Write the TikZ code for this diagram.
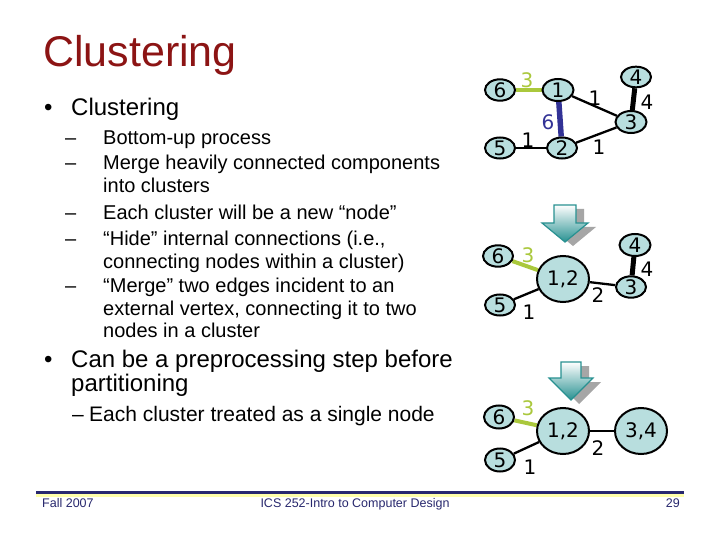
\documentclass[tikz,border=0pt]{standalone}
\usepackage{fontspec}
\setmainfont{Liberation Sans}
\newfontfamily\dvs{DejaVu Sans}
\usetikzlibrary{shapes.geometric,backgrounds}
\definecolor{titlered}{RGB}{140,20,20}
\definecolor{nodefill}{RGB}{184,222,222}
\definecolor{edgegreen}{RGB}{170,200,60}
\definecolor{edgeblue}{RGB}{50,50,150}
\definecolor{footnavy}{RGB}{40,40,110}
\definecolor{footyellow}{RGB}{255,255,170}
\definecolor{arrowteal}{RGB}{40,145,145}
\begin{document}
\begin{tikzpicture}[x=1pt,y=-1pt,
  txt/.style={anchor=base west,inner sep=0pt},
  lvlone/.style={txt,font=\fontsize{24}{28}\selectfont},
  lvltwo/.style={txt,font=\fontsize{20}{24}\selectfont},
  gnode/.style={ellipse,draw=black,line width=2pt,fill=nodefill,inner sep=0pt,
    font=\dvs\fontsize{20}{20}\selectfont},
  small/.style={gnode,minimum width=30pt,minimum height=21pt},
  big/.style={gnode,minimum width=52pt,minimum height=46pt},
  elabel/.style={inner sep=0pt,font=\dvs\fontsize{20}{20}\selectfont},
  gedge/.style={line width=2.3pt,black},
  thickedge/.style={line width=5pt,black},
  greenedge/.style={line width=4pt,edgegreen},
  blueedge/.style={line width=5.5pt,edgeblue},
  foot/.style={inner sep=0pt,text=footnavy,font=\fontsize{12.5}{14}\selectfont},
  arrowshadow/.style={fill=black!35},
  arrowbody/.style={top color=white,bottom color=arrowteal,draw=arrowteal,line width=1.2pt,line join=miter}
]
\useasboundingbox (0,0) rectangle (720,540);

% title
\node[txt,text=titlered,font=\fontsize{43}{50}\selectfont] (title) at (43,67) {Clustering};

% bullets
\node[lvlone] (b1) at (44,116) {•};
\node[lvlone] (t1) at (71,116) {Clustering};
\node[lvltwo] (d1) at (65,145) {–};
\node[lvltwo] (s1) at (103,145) {Bottom-up process};
\node[lvltwo] (d2) at (65,170) {–};
\node[lvltwo] (s2) at (103,170) {Merge heavily connected components};
\node[lvltwo] (s2b) at (103,193) {into clusters};
\node[lvltwo] (d3) at (65,219) {–};
\node[lvltwo] (s3) at (103,219) {Each cluster will be a new “node”};
\node[lvltwo] (d4) at (65,245) {–};
\node[lvltwo] (s4) at (103,245) {“Hide” internal connections (i.e.,};
\node[lvltwo] (s4b) at (103,268) {connecting nodes within a cluster)};
\node[lvltwo] (d5) at (65,292) {–};
\node[lvltwo] (s5) at (103,292) {“Merge” two edges incident to an};
\node[lvltwo] (s5b) at (103,315) {external vertex, connecting it to two};
\node[lvltwo] (s5c) at (103,337) {nodes in a cluster};
\node[lvlone] (b2) at (44,367) {•};
\node[lvlone] (t2) at (71,367) {Can be a preprocessing step before};
\node[lvlone] (t2b) at (71,391) {partitioning};
\node[lvltwo,font=\fontsize{21}{24}\selectfont] (d6) at (72,421) {–};
\node[lvltwo,font=\fontsize{21}{24}\selectfont] (s6) at (89,421) {Each cluster treated as a single node};

% graph 1
\node[small] (a6) at (500,90) {6};
\node[small,minimum width=31pt,minimum height=22pt] (a1) at (558,90) {1};
\node[small] (a5) at (500,148) {5};
\node[small] (a2) at (562,148) {2};
\node[small,minimum height=20pt] (a4) at (636,77) {4};
\node[small,minimum width=31pt,minimum height=22pt] (a3) at (631,122) {3};
\node[elabel,text=edgegreen] (la61) at (527,80) {3};
\node[elabel] (la13) at (595,98) {1};
\node[elabel] (la43) at (647,102) {4};
\node[elabel,text=edgeblue] (la12) at (548,122) {6};
\node[elabel] (la52) at (528,140) {1};
\node[elabel] (la23) at (599,147) {1};

% arrow 1
\fill[arrowshadow] (562,209) -- (584,209) -- (584,227) -- (596,227) -- (573,246) -- (550,227) -- (562,227) -- cycle;
\path[arrowbody] (554,205) -- (576,205) -- (576,223) -- (588,223) -- (565,242) -- (542,223) -- (554,223) -- cycle;

% graph 2
\node[small] (b6) at (498,256) {6};
\node[big] (b12) at (563,279) {1,2};
\node[small] (b5) at (500,305) {5};
\node[small,minimum width=31pt,minimum height=22pt] (b4) at (635,245) {4};
\node[small] (b3) at (631,287) {3};
\node[elabel,text=edgegreen] (lb6) at (528,255) {3};
\node[elabel] (lb43) at (647,269) {4};
\node[elabel] (lb3) at (598,295) {2};
\node[elabel] (lb5) at (529,312) {1};

% arrow 2
\fill[arrowshadow] (569,366) -- (589,366) -- (589,382) -- (601,382) -- (579,404) -- (557,382) -- (569,382) -- cycle;
\path[arrowbody] (561,362) -- (581,362) -- (581,378) -- (593,378) -- (571,400) -- (549,378) -- (561,378) -- cycle;

% graph 3
\node[small,minimum height=23pt] (c6) at (499,417) {6};
\node[big] (c12) at (563,431) {1,2};
\node[small,minimum height=23pt] (c5) at (500,460) {5};
\node[big] (c34) at (641,431) {3,4};
\node[elabel,text=edgegreen] (lc6) at (528,408) {3};
\node[elabel] (lc34) at (598,448) {2};
\node[elabel] (lc5) at (530,467) {1};

\begin{scope}[on background layer]
\fill[white] (0,0) rectangle (720,540);
\draw[greenedge] (a6) -- (a1);
\draw[blueedge] (a1) -- (a2);
\draw[gedge] (a5) -- (a2);
\draw[gedge] (a1) -- (a3);
\draw[gedge] (a2) -- (a3);
\draw[thickedge] (a4) -- (a3);
\draw[greenedge] (b6) -- (b12);
\draw[gedge] (b5) -- (b12);
\draw[gedge] (b12) -- (b3);
\draw[thickedge] (b4) -- (b3);
\draw[greenedge] (c6) -- (c12);
\draw[gedge] (c5) -- (c12);
\draw[gedge] (c12) -- (c34);
\end{scope}

% footer
\fill[footnavy] (36,491) rectangle (684,494);
\fill[footyellow] (36,494) rectangle (684,496.5);
\node[foot,anchor=base west] (f1) at (42,507) {Fall 2007};
\node[foot,anchor=base] (f2) at (355,507) {ICS 252-Intro to Computer Design};
\node[foot,anchor=base east] (f3) at (680,507) {29};
\end{tikzpicture}
\end{document}
